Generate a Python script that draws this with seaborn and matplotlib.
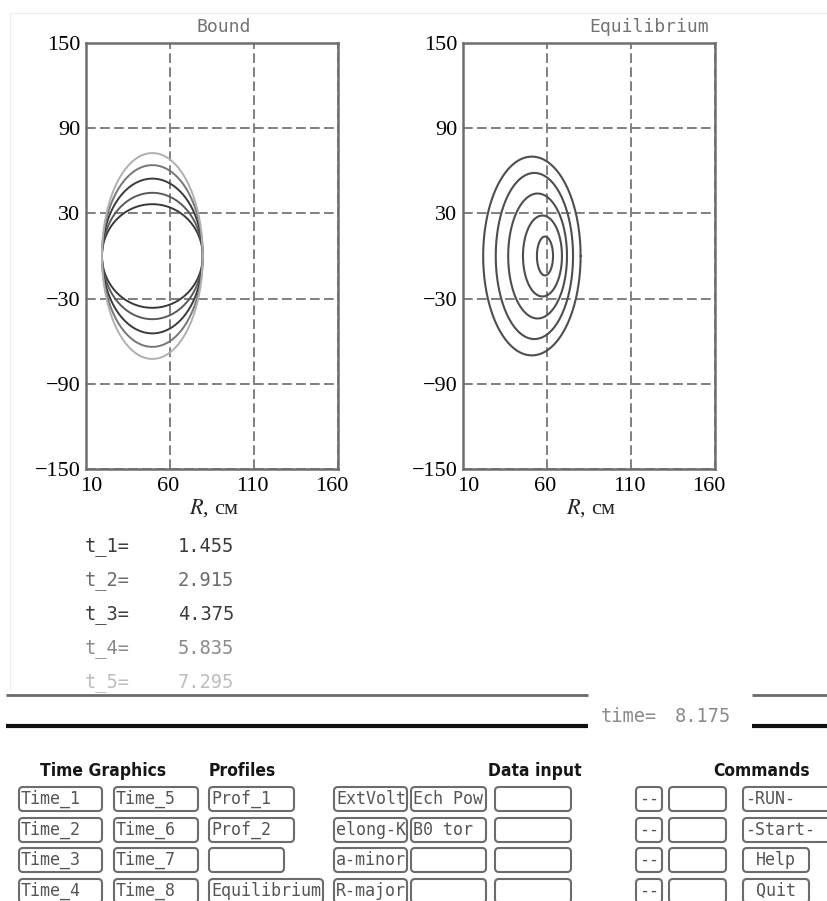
import numpy as np
import pandas as pd
import matplotlib
matplotlib.use("Agg")
import matplotlib.pyplot as plt
from matplotlib.patches import FancyBboxPatch
from matplotlib.transforms import ScaledTranslation
import seaborn as sns

# ---- plasma boundary at successive time slices (cm) ----
bound_labels = ["t_1=", "t_2=", "t_3=", "t_4=", "t_5="]
bound_times = [1.455, 2.915, 4.375, 5.835, 7.295]
bound_R0 = [49.5, 49.5, 49.5, 49.5, 49.5]       # centre of the boundary
bound_a = [30.0, 30.0, 30.0, 30.0, 30.0]        # horizontal half-width
bound_b = [36.5, 44.5, 54.5, 64.0, 72.5]        # vertical half-height
bound_colors = ["#3a3a3a", "#5a5a5a", "#3a3a3a", "#767676", "#b0b0b0"]
bound_text_colors = ["#3c3c3c", "#6c6c6c", "#3c3c3c", "#8a8a8a", "#bdbdbd"]

# ---- equilibrium flux surfaces (cm) ----
eq_R0 = [51.0, 52.5, 54.4, 57.3, 58.8]
eq_a = [29.0, 23.0, 17.5, 11.6, 4.8]
eq_b = [70.0, 58.5, 44.0, 28.5, 13.7]

current_time = 8.175

R_ticks = [10, 60, 110, 160]
Z_ticks = [-150, -90, -30, 30, 90, 150]

# ---- control panel ----
panel_headers = ["Time Graphics", "Profiles", "Data input", "Commands"]
time_buttons_a = ["Time_1", "Time_2", "Time_3", "Time_4"]
time_buttons_b = ["Time_5", "Time_6", "Time_7", "Time_8"]
profile_buttons = ["Prof_1", "Prof_2", "", "Equilibrium"]
input_buttons_a = ["ExtVolt", "elong-K", "a-minor", "R-major"]
input_buttons_b = ["Ech Pow", "B0 tor", "", ""]
input_buttons_c = ["", "", "", ""]
step_buttons = ["--", "--", "--", "--"]
spare_buttons = ["", "", "", ""]
command_buttons = ["-RUN-", "-Start-", "Help", "Quit"]


def outline(r0, a, b, n=241):
    th = np.linspace(0.0, 2.0 * np.pi, n)
    return r0 + a * np.cos(th), b * np.sin(th)


def surfaces_frame(r0s, As, Bs):
    rows = []
    for k, (r0, a, b) in enumerate(zip(r0s, As, Bs)):
        R, Z = outline(r0, a, b)
        rows.append(pd.DataFrame({"R": R, "Z": Z, "curve": k}))
    return pd.concat(rows, ignore_index=True)


sns.set_theme(style="white")
plt.rcParams["font.family"] = ["Liberation Serif", "DejaVu Serif"]
plt.rcParams["mathtext.fontset"] = "stix"

W, H = 827, 901
fig = plt.figure(figsize=(W / 100, H / 100), dpi=100)
fig.patch.set_facecolor("white")

# pixel-space layer for text, rules and buttons
ui = fig.add_axes([0, 0, 1, 1])
ui.set_xlim(0, W)
ui.set_ylim(H, 0)
ui.axis("off")

MONO = "DejaVu Sans Mono"

# faint outer frame of the window
ui.plot([10, W], [13, 13], color="#ededed", lw=0.8)
ui.plot([10, 10], [13, 690], color="#ededed", lw=0.8)


def make_plot(left_px, df, palette, lw):
    ax = fig.add_axes([left_px / W, 1 - 469 / H, 252 / W, 426 / H])
    sns.lineplot(data=df, x="R", y="Z", hue="curve", units="curve",
                 estimator=None, sort=False, palette=palette,
                 legend=False, linewidth=lw, ax=ax, zorder=3)
    ax.set_xlim(R_ticks[0], R_ticks[-1])
    ax.set_ylim(Z_ticks[0], Z_ticks[-1])
    ax.set_xticks(R_ticks)
    ax.set_yticks(Z_ticks)
    ax.grid(True, color="#808080", linestyle=(0, (5, 2.2)), linewidth=1.4)
    ax.tick_params(length=0, labelsize=16, colors="black")
    ax.tick_params(axis="x", pad=5.5)
    ax.tick_params(axis="y", pad=4.0)
    for s in ax.spines.values():
        s.set_color("#6e6e6e")
        s.set_linewidth(1.8)
        s.set_visible(True)
    ax.set_ylabel("")
    ax.set_xlabel("$R$, см", fontsize=16)
    ax.xaxis.set_label_coords(0.508, -0.066)
    ax.set_facecolor("white")
    return ax


df_bound = surfaces_frame(bound_R0, bound_a, bound_b)
ax1 = make_plot(86, df_bound, {k: c for k, c in enumerate(bound_colors)}, 1.4)

df_eq = surfaces_frame(eq_R0, eq_a, eq_b)
ax2 = make_plot(463, df_eq, {k: "#4e4e4e" for k in range(len(eq_R0))}, 1.5)

# nudge the end tick labels of R inward so they clear the Z labels
fig.canvas.draw()
x_shift_px = [5, -2, -2, -6]
for ax in (ax1, ax2):
    for lab, dx in zip(ax.xaxis.get_majorticklabels(), x_shift_px):
        lab.set_transform(lab.get_transform()
                          + ScaledTranslation(dx / 100, 0, fig.dpi_scale_trans))

ui.text(224, 27, "Bound", family=MONO, fontsize=13, color="#737373",
        ha="center", va="center")
ui.text(709, 27, "Equilibrium", family=MONO, fontsize=13, color="#737373",
        ha="right", va="center")

# time slices of the boundary
for i, (lab, t) in enumerate(zip(bound_labels, bound_times)):
    y = 547 + i * 34
    ui.text(85, y, lab, family=MONO, fontsize=13.5, color=bound_text_colors[i],
            ha="left", va="center")
    ui.text(178, y, f"{t:.3f}", family=MONO, fontsize=13.5,
            color=bound_text_colors[i], ha="left", va="center")

# separator rules and current time
for x0, x1 in [(6, 588), (752, W)]:
    ui.plot([x0, x1], [695, 695], color="#6a6a6a", lw=2.0, solid_capstyle="butt")
    ui.plot([x0, x1], [726, 726], color="#111111", lw=3.0, solid_capstyle="butt")
ui.text(601, 717, "time=", family=MONO, fontsize=13.4, color="#8a8a8a",
        ha="left", va="center")
ui.text(675, 717, f"{current_time:.3f}", family=MONO, fontsize=13.4,
        color="#8a8a8a", ha="left", va="center")

# panel headers
header_pos = [(40, "left"), (209, "left"), (582, "right"), (810, "right")]
for txt, (x, ha) in zip(panel_headers, header_pos):
    ui.text(x, 771, txt, family="DejaVu Sans", fontstretch="condensed",
            fontweight="bold", fontsize=12.5, color="#161616", ha=ha, va="center")

row_tops = [787, 818, 848, 879]
BOX_H = 24


def button(x0, x1, top, label, align="left"):
    box = FancyBboxPatch((x0, top), x1 - x0, BOX_H,
                         boxstyle="round,pad=0,rounding_size=4",
                         facecolor="white", edgecolor="#6c6c6c", lw=1.5)
    ui.add_patch(box)
    if label:
        ty = top + 11.5 + 0.5
        if align == "left":
            ui.text(x0 + 2, ty, label, family=MONO,
                    fontsize=12, color="#555555", ha="left", va="center")
        else:
            ui.text((x0 + x1) / 2, ty, label, family=MONO,
                    fontsize=12, color="#555555", ha="center", va="center")


prof_right = [294, 294, 284, 323]
cmd_right = [840, 840, 809, 809]
cmd_align = ["left", "left", "center", "center"]
for r, top in enumerate(row_tops):
    button(19, 102, top, time_buttons_a[r])
    button(114, 198, top, time_buttons_b[r])
    button(209, prof_right[r], top, profile_buttons[r])
    button(334, 407, top, input_buttons_a[r])
    button(411, 486, top, input_buttons_b[r])
    button(495, 571, top, input_buttons_c[r])
    button(636, 662, top, step_buttons[r], align="center")
    button(669, 726, top, spare_buttons[r])
    button(743, cmd_right[r], top, command_buttons[r], align=cmd_align[r])

fig.savefig("out.png", dpi=100, facecolor="white")
